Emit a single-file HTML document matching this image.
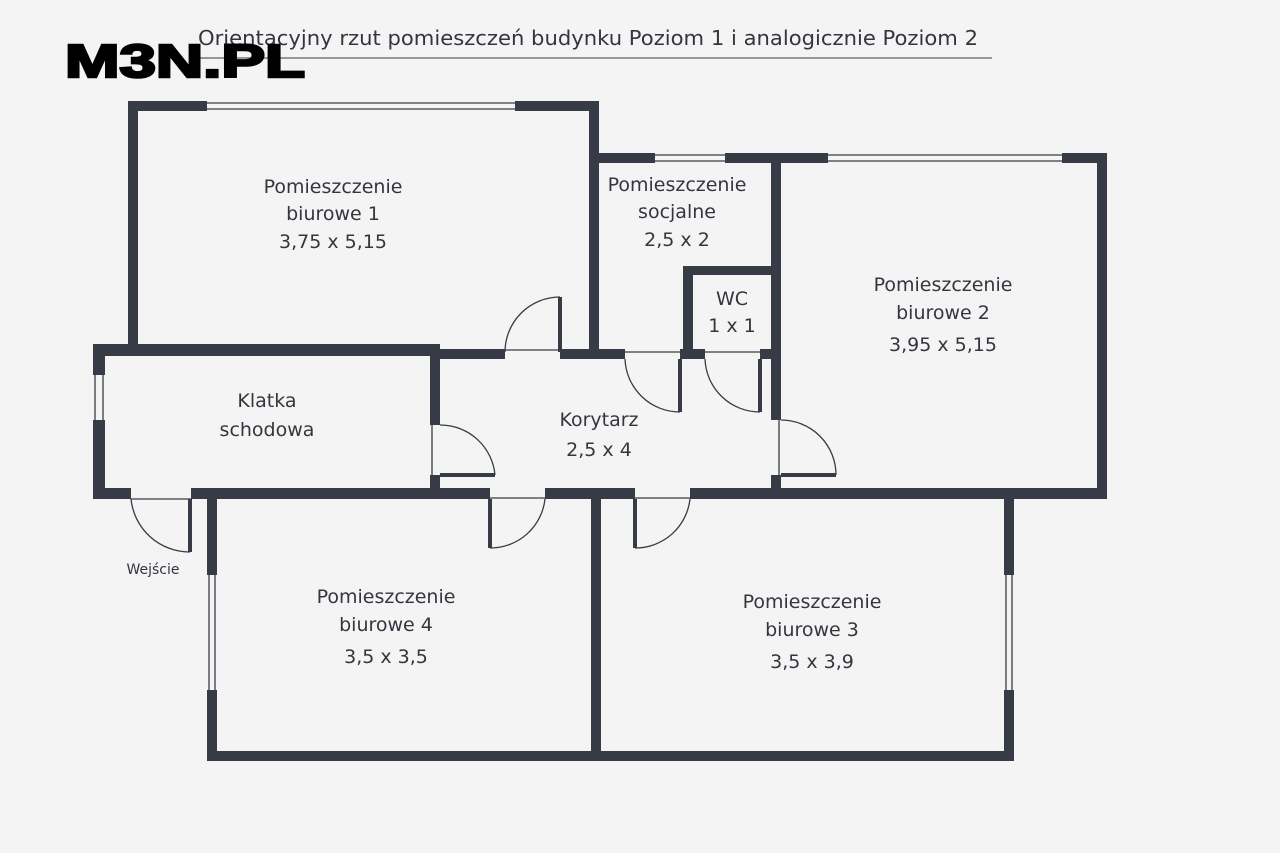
<!DOCTYPE html>
<html><head><meta charset="utf-8"><style>
body{margin:0;background:#f4f4f4;}
svg{display:block}
text{font-family:"DejaVu Sans","Liberation Sans",sans-serif;fill:#33363e;text-anchor:middle}
</style></head><body>
<svg width="1280" height="853" viewBox="0 0 1280 853">
<rect width="1280" height="853" fill="#f4f4f4"/>
<text x="588" y="45" font-size="20" fill="#555" textLength="780" lengthAdjust="spacingAndGlyphs">Orientacyjny rzut pomieszczeń budynku Poziom 1 i analogicznie Poziom 2</text>
<line x1="200" y1="58" x2="992" y2="58" stroke="#777" stroke-width="1.5"/>
<text x="185" y="77" font-size="46" font-weight="bold" style="fill:#000;stroke:#000;stroke-width:2.5;font-family:'Liberation Sans',sans-serif" textLength="240" lengthAdjust="spacingAndGlyphs">M3N.PL</text>
<g fill="#373b45">
<rect x="128" y="101" width="10" height="251"/>
<rect x="128" y="101" width="79" height="10"/>
<rect x="515" y="101" width="84" height="10"/>
<rect x="589" y="101" width="10" height="257"/>
<rect x="589" y="153" width="66" height="10"/>
<rect x="725" y="153" width="103" height="10"/>
<rect x="1062" y="153" width="44" height="10"/>
<rect x="771" y="153" width="10" height="267"/>
<rect x="771" y="475" width="10" height="22"/>
<rect x="1097" y="153" width="10" height="344"/>
<rect x="683" y="266" width="98" height="9"/>
<rect x="683" y="266" width="10" height="92"/>
<rect x="93" y="344" width="347" height="12"/>
<rect x="430" y="349" width="75" height="10"/>
<rect x="560" y="349" width="65" height="10"/>
<rect x="680" y="349" width="25" height="10"/>
<rect x="760" y="349" width="21" height="10"/>
<rect x="93" y="344" width="12" height="31"/>
<rect x="93" y="420" width="12" height="79"/>
<rect x="430" y="349" width="10" height="76"/>
<rect x="430" y="475" width="10" height="22"/>
<rect x="93" y="488" width="38" height="11"/>
<rect x="191" y="488" width="299" height="11"/>
<rect x="545" y="488" width="90" height="11"/>
<rect x="690" y="488" width="417" height="11"/>
<rect x="207" y="488" width="10" height="87"/>
<rect x="207" y="690" width="10" height="70"/>
<rect x="207" y="751" width="807" height="10"/>
<rect x="591" y="488" width="10" height="273"/>
<rect x="1004" y="488" width="10" height="87"/>
<rect x="1004" y="690" width="10" height="71"/>
</g>
<g fill="none" stroke="#373b45" stroke-width="1.3">
<line x1="207" y1="103" x2="515" y2="103"/><line x1="207" y1="109" x2="515" y2="109"/>
<line x1="655" y1="155" x2="725" y2="155"/><line x1="655" y1="161" x2="725" y2="161"/>
<line x1="828" y1="155" x2="1062" y2="155"/><line x1="828" y1="161" x2="1062" y2="161"/>
<line x1="95" y1="375" x2="95" y2="420"/><line x1="103" y1="375" x2="103" y2="420"/>
<line x1="209" y1="575" x2="209" y2="690"/><line x1="215" y1="575" x2="215" y2="690"/>
<line x1="1006" y1="575" x2="1006" y2="690"/><line x1="1012" y1="575" x2="1012" y2="690"/>
<line x1="505" y1="350" x2="560" y2="350"/>
<line x1="625" y1="352" x2="680" y2="352"/>
<line x1="705" y1="352" x2="760" y2="352"/>
<line x1="131" y1="499" x2="191" y2="499"/>
<line x1="490" y1="498" x2="545" y2="498"/>
<line x1="635" y1="498" x2="690" y2="498"/>
<line x1="432" y1="425" x2="432" y2="475"/>
<line x1="779" y1="420" x2="779" y2="475"/>
<path d="M505 352 A55 55 0 0 1 560 297"/>
<path d="M625 359 A55 55 0 0 0 680 412"/>
<path d="M705 359 A55 55 0 0 0 760 412"/>
<path d="M131 499 A59 59 0 0 0 190 552"/>
<path d="M490 548 A55 55 0 0 0 545 499"/>
<path d="M635 548 A55 55 0 0 0 690 499"/>
<path d="M440 425 A55 55 0 0 1 495 475"/>
<path d="M781 420 A55 55 0 0 1 836 475"/>
</g>
<g fill="#373b45">
<rect x="558" y="297" width="4" height="55"/>
<rect x="678" y="359" width="4" height="53"/>
<rect x="758" y="359" width="4" height="53"/>
<rect x="188" y="499" width="4" height="53"/>
<rect x="488" y="499" width="4" height="49"/>
<rect x="633" y="499" width="4" height="49"/>
<rect x="440" y="473" width="55" height="4"/>
<rect x="781" y="473" width="55" height="4"/>
</g>
<g font-size="19">
<text x="333" y="193">Pomieszczenie</text><text x="333" y="220">biurowe 1</text><text x="333" y="248">3,75 x 5,15</text>
<text x="677" y="191">Pomieszczenie</text><text x="677" y="218">socjalne</text><text x="677" y="246">2,5 x 2</text>
<text x="732" y="305">WC</text><text x="732" y="332">1 x 1</text>
<text x="943" y="291">Pomieszczenie</text><text x="943" y="319">biurowe 2</text><text x="943" y="351">3,95 x 5,15</text>
<text x="267" y="407">Klatka</text><text x="267" y="436">schodowa</text>
<text x="599" y="426">Korytarz</text><text x="599" y="456">2,5 x 4</text>
<text x="386" y="603">Pomieszczenie</text><text x="386" y="631">biurowe 4</text><text x="386" y="663">3,5 x 3,5</text>
<text x="812" y="608">Pomieszczenie</text><text x="812" y="636">biurowe 3</text><text x="812" y="668">3,5 x 3,9</text>
</g>
<text x="153" y="574" font-size="14">Wejście</text>
</svg>
</body></html>
